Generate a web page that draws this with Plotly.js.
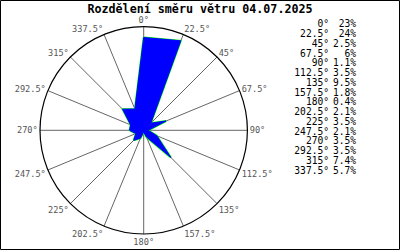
<!DOCTYPE html>
<html>
<head>
<meta charset="utf-8">
<script src="https://cdn.plot.ly/plotly-3.0.1.min.js"></script>
<style>
html,body{margin:0;padding:0;background:#fff;}
#chart{width:400px;height:250px;}
</style>
</head>
<body>
<div id="chart"></div>
<script>
var directions = [0, 22.5, 45, 67.5, 90, 112.5, 135, 157.5, 180, 202.5, 225, 247.5, 270, 292.5, 315, 337.5];
var directionLabels = ['0°','22.5°','45°','67.5°','90°','112.5°','135°','157.5°','180°','202.5°','225°','247.5°','270°','292.5°','315°','337.5°'];
var percents = [23, 24, 2.5, 6, 1.1, 3.5, 9.5, 1.8, 0.4, 2.1, 3.5, 2.1, 3.5, 3.5, 7.4, 5.7];
var percentLabels = ['23%','24%','2.5%','6%','1.1%','3.5%','9.5%','1.8%','0.4%','2.1%','3.5%','2.1%','3.5%','3.5%','7.4%','5.7%'];

var W = 400, H = 250;
var mono = 'DejaVu Sans Mono, monospace';
var thetaClosed = directions.concat([directions[0]]);
var rClosed = percents.concat([percents[0]]);

// list placement (pixel layout, computed)
var rowY = directions.map(function (d, i) { return 25 + i * 9.75; });
var angleX = directions.map(function () { return 329; });
var pctX = directions.map(function () { return 356; });

var traces = [
  {type:'scatterpolar', mode:'lines', r:rClosed, theta:thetaClosed,
   line:{color:'#00ff00', width:2}, hoverinfo:'skip', showlegend:false},
  {type:'scatterpolar', mode:'lines', r:rClosed, theta:thetaClosed, fill:'toself',
   fillcolor:'#0000ff', line:{color:'#0000ff', width:1}, hoverinfo:'skip', showlegend:false},
  {type:'scatter', mode:'text', x:angleX, y:rowY, text:directionLabels, textposition:'middle left',
   marker:{size:0}, textfont:{family:mono, size:9.6, color:'#000'}, hoverinfo:'skip', showlegend:false, cliponaxis:false},
  {type:'scatter', mode:'text', x:pctX, y:rowY, text:percentLabels, textposition:'middle left',
   marker:{size:0}, textfont:{family:mono, size:9.6, color:'#000'}, hoverinfo:'skip', showlegend:false, cliponaxis:false}
];

var layout = {
  width:W, height:H,
  margin:{l:0, r:0, t:0, b:0},
  paper_bgcolor:'#fff',
  plot_bgcolor:'rgba(0,0,0,0)',
  showlegend:false,
  title:{text:'<b>Rozdělení směru větru 04.07.2025</b>', x:0.5, xanchor:'center', y:1 - 8.5/H, yanchor:'middle', yref:'container',
    font:{family:mono, size:11.7, color:'#000'}},
  xaxis:{domain:[0,1], range:[0, W], visible:false, fixedrange:true},
  yaxis:{domain:[0,1], range:[H, 0], visible:false, fixedrange:true},
  polar:{
    domain:{x:[40/W, 247.4/W], y:[1 - 234/H, 1 - 26.6/H]},
    bgcolor:'#fff',
    radialaxis:{range:[0, 25.7], visible:false, showgrid:false},
    angularaxis:{
      direction:'clockwise', rotation:90, thetaunit:'degrees',
      tickmode:'array', tickvals:directions, ticktext:directionLabels,
      ticks:'', showline:true, linecolor:'#000', linewidth:1.2,
      showgrid:true, gridcolor:'#666', gridwidth:1,
      tickfont:{family:mono, size:8.6, color:'#555'}
    }
  },
  shapes:[{type:'rect', xref:'paper', yref:'paper', x0:0.5/W, x1:1 - 0.5/W, y0:0.5/H, y1:1 - 0.5/H,
    line:{color:'#000', width:1}, fillcolor:'rgba(0,0,0,0)'}]
};

Plotly.newPlot('chart', traces, layout, {displayModeBar:false, staticPlot:true});
</script>
</body>
</html>
